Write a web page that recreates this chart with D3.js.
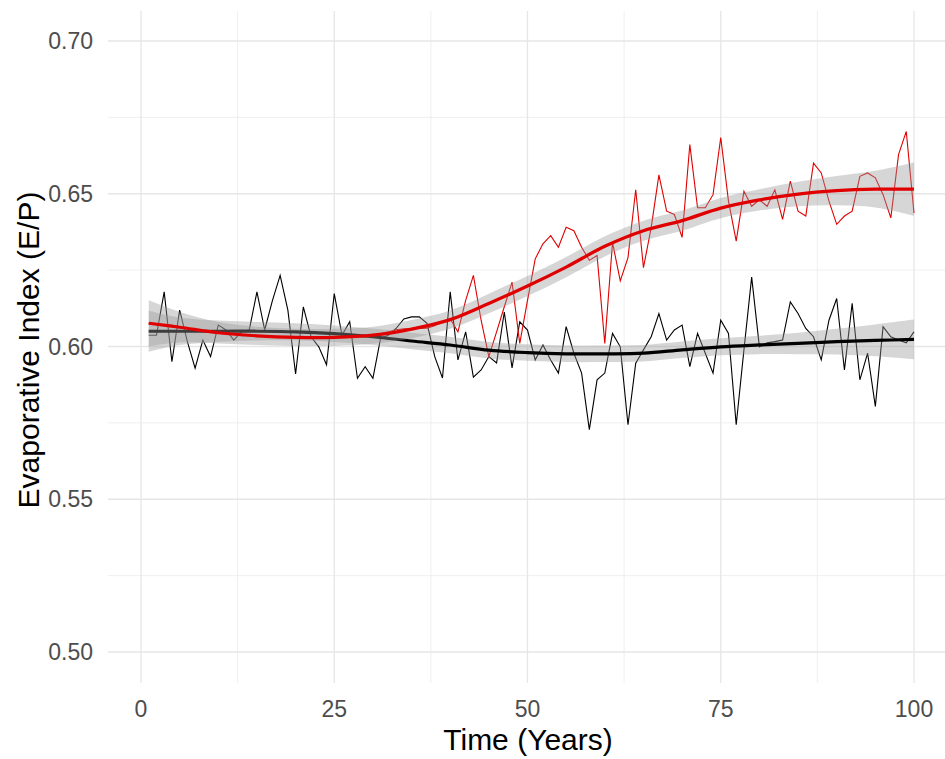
<!DOCTYPE html>
<html>
<head>
<meta charset="utf-8">
<script src="https://cdn.jsdelivr.net/npm/d3@7"></script>
<style>
  body { margin: 0; background: #fff; }
  text { font-family: "Liberation Sans", Arial, sans-serif; }
</style>
</head>
<body>
<script>
// evaporative index over time, two runs with loess-like smooths

// raw series, years 1..100
var years = d3.range(1, 101);

var blackValues = [
  0.6037, 0.6037, 0.6179, 0.5950, 0.6119, 0.6016, 0.5929, 0.6021, 0.5967, 0.6070,
  0.6054, 0.6021, 0.6048, 0.6054, 0.6179, 0.6054, 0.6150, 0.6233, 0.6119, 0.5910,
  0.6130, 0.6032, 0.5999, 0.5940, 0.6173, 0.6037, 0.6081, 0.5896, 0.5934, 0.5896,
  0.6027, 0.6037, 0.6059, 0.6090, 0.6097, 0.6097, 0.6076, 0.5967, 0.5897, 0.6179,
  0.5956, 0.6048, 0.5900, 0.5923, 0.5967, 0.5946, 0.6113, 0.5930, 0.6081, 0.6054,
  0.5956, 0.6005, 0.5956, 0.5913, 0.6065, 0.5978, 0.5913, 0.5728, 0.5891, 0.5913,
  0.6043, 0.5999, 0.5744, 0.5945, 0.5989, 0.6032, 0.6108, 0.6021, 0.6054, 0.6070,
  0.5934, 0.6043, 0.5978, 0.5913, 0.6086, 0.6043, 0.5744, 0.5989, 0.6227, 0.5999,
  0.6012, 0.6016, 0.6021, 0.6146, 0.6108, 0.6059, 0.6032, 0.5956, 0.6086, 0.6157,
  0.5923, 0.6141, 0.5891, 0.5978, 0.5804, 0.6065, 0.6032, 0.6021, 0.6012, 0.6048
];

var redValues = [
  0.6075, 0.6075, 0.6070, 0.6070, 0.6065, 0.6060, 0.6055, 0.6050, 0.6045, 0.6045,
  0.6040, 0.6040, 0.6035, 0.6035, 0.6035, 0.6032, 0.6032, 0.6030, 0.6030, 0.6030,
  0.6030, 0.6030, 0.6030, 0.6030, 0.6030, 0.6032, 0.6033, 0.6035, 0.6036, 0.6037,
  0.6042, 0.6048, 0.6055, 0.6058, 0.6059, 0.6059, 0.6060, 0.6068, 0.6080, 0.6090,
  0.6048, 0.6151, 0.6233, 0.6086, 0.5967, 0.6048, 0.6130, 0.6211, 0.6010, 0.6151,
  0.6287, 0.6336, 0.6363, 0.6325, 0.6390, 0.6379, 0.6325, 0.6282, 0.6298, 0.6010,
  0.6340, 0.6215, 0.6291, 0.6513, 0.6258, 0.6389, 0.6562, 0.6443, 0.6432, 0.6357,
  0.6661, 0.6454, 0.6454, 0.6497, 0.6684, 0.6476, 0.6345, 0.6508, 0.6459, 0.6480,
  0.6459, 0.6513, 0.6416, 0.6541, 0.6443, 0.6427, 0.6600, 0.6568, 0.6476, 0.6400,
  0.6427, 0.6443, 0.6557, 0.6568, 0.6552, 0.6497, 0.6421, 0.6628, 0.6704, 0.6437
];

// smooth fits
var smoothYears = [1, 5, 10, 15, 20, 25, 30, 35, 40, 45, 50, 55, 60, 65, 70, 75, 80, 85, 90, 95, 100];
var blackSmooth = [0.6050, 0.6050, 0.6050, 0.6050, 0.6048, 0.6042, 0.6032, 0.6018, 0.6005, 0.5988, 0.5980,
                   0.5976, 0.5976, 0.5978, 0.5989, 0.5999, 0.6005, 0.6010, 0.6016, 0.6020, 0.6023];
var blackSe = [0.0067, 0.0045, 0.0035, 0.0030, 0.0028, 0.0027, 0.0027, 0.0027, 0.0027, 0.0027, 0.0027,
               0.0027, 0.0027, 0.0027, 0.0027, 0.0028, 0.0030, 0.0035, 0.0042, 0.0052, 0.0065];
var redSmooth = [0.6076, 0.6063, 0.6045, 0.6035, 0.6030, 0.6030, 0.6037, 0.6057, 0.6088, 0.6141, 0.6198,
                 0.6260, 0.6328, 0.6379, 0.6412, 0.6453, 0.6480, 0.6499, 0.6510, 0.6515, 0.6515];
var redSe = [0.0075, 0.0050, 0.0035, 0.0030, 0.0028, 0.0028, 0.0028, 0.0030, 0.0030, 0.0032, 0.0033,
             0.0033, 0.0033, 0.0033, 0.0033, 0.0033, 0.0035, 0.0040, 0.0048, 0.0060, 0.0087];

var xTicks = [0, 25, 50, 75, 100];
var xMinor = [12.5, 37.5, 62.5, 87.5];
var yTicks = [0.50, 0.55, 0.60, 0.65, 0.70];
var yMinor = [0.525, 0.575, 0.625, 0.675];

var width = 945,
    height = 759;
var panel = {left: 108, right: 945, top: 11, bottom: 683};

var x = d3.scaleLinear().domain([0, 100]).range([141, 914]);
var y = d3.scaleLinear().domain([0.50, 0.70]).range([652, 41]);

var svg = d3.select("body")
            .append("svg")
            .attr("width", width)
            .attr("height", height);

// grid
var grid = svg.append("g").attr("class", "grid");
grid.selectAll(".ymin").data(yMinor).enter().append("line")
    .attr("x1", panel.left).attr("x2", panel.right)
    .attr("y1", function(d) { return y(d); }).attr("y2", function(d) { return y(d); })
    .style("stroke", "#ebebeb").style("stroke-width", 0.8);
grid.selectAll(".xmin").data(xMinor).enter().append("line")
    .attr("y1", panel.top).attr("y2", panel.bottom)
    .attr("x1", function(d) { return x(d); }).attr("x2", function(d) { return x(d); })
    .style("stroke", "#ebebeb").style("stroke-width", 0.8);
grid.selectAll(".ymaj").data(yTicks).enter().append("line")
    .attr("x1", panel.left).attr("x2", panel.right)
    .attr("y1", function(d) { return y(d); }).attr("y2", function(d) { return y(d); })
    .style("stroke", "#e6e6e6").style("stroke-width", 1.3);
grid.selectAll(".xmaj").data(xTicks).enter().append("line")
    .attr("y1", panel.top).attr("y2", panel.bottom)
    .attr("x1", function(d) { return x(d); }).attr("x2", function(d) { return x(d); })
    .style("stroke", "#e6e6e6").style("stroke-width", 1.3);

// raw lines
var rawLine = d3.line()
    .x(function(d) { return x(d[0]); })
    .y(function(d) { return y(d[1]); });

svg.append("path")
    .datum(d3.zip(years, blackValues))
    .attr("d", rawLine)
    .style("fill", "none").style("stroke", "#000").style("stroke-width", 1.1);

svg.append("path")
    .datum(d3.zip(years, redValues))
    .attr("d", rawLine)
    .style("fill", "none").style("stroke", "#e00000").style("stroke-width", 1.1);

// smooths with confidence bands
var band = d3.area()
    .curve(d3.curveCatmullRom)
    .x(function(d) { return x(d[0]); })
    .y0(function(d) { return y(d[1] - d[2]); })
    .y1(function(d) { return y(d[1] + d[2]); });
var smoothLine = d3.line()
    .curve(d3.curveCatmullRom)
    .x(function(d) { return x(d[0]); })
    .y(function(d) { return y(d[1]); });

function drawSmooth(fit, se, colour) {
  var rows = d3.zip(smoothYears, fit, se);
  svg.append("path")
      .datum(rows)
      .attr("d", band)
      .style("fill", "#999999").style("opacity", 0.4);
  svg.append("path")
      .datum(rows)
      .attr("d", smoothLine)
      .style("fill", "none").style("stroke", colour).style("stroke-width", 3.2);
}
drawSmooth(blackSmooth, blackSe, "#000");
drawSmooth(redSmooth, redSe, "#e00000");

// tick labels
svg.selectAll(".ylab").data(yTicks).enter().append("text")
    .attr("x", 93)
    .attr("y", function(d) { return y(d) + 8; })
    .attr("text-anchor", "end")
    .style("font-size", "23px").style("fill", "#4d4d4d")
    .text(function(d) { return d3.format(".2f")(d); });

svg.selectAll(".xlab").data(xTicks).enter().append("text")
    .attr("x", function(d) { return x(d); })
    .attr("y", 717)
    .attr("text-anchor", "middle")
    .style("font-size", "23px").style("fill", "#4d4d4d")
    .text(function(d) { return d; });

// axis titles
svg.append("text")
    .attr("x", 528)
    .attr("y", 750)
    .attr("text-anchor", "middle")
    .style("font-size", "30px").style("fill", "#000")
    .text("Time (Years)");

svg.append("text")
    .attr("transform", "translate(39,350) rotate(-90)")
    .attr("text-anchor", "middle")
    .style("font-size", "30px").style("fill", "#000")
    .text("Evaporative Index (E/P)");
</script>
</body>
</html>
